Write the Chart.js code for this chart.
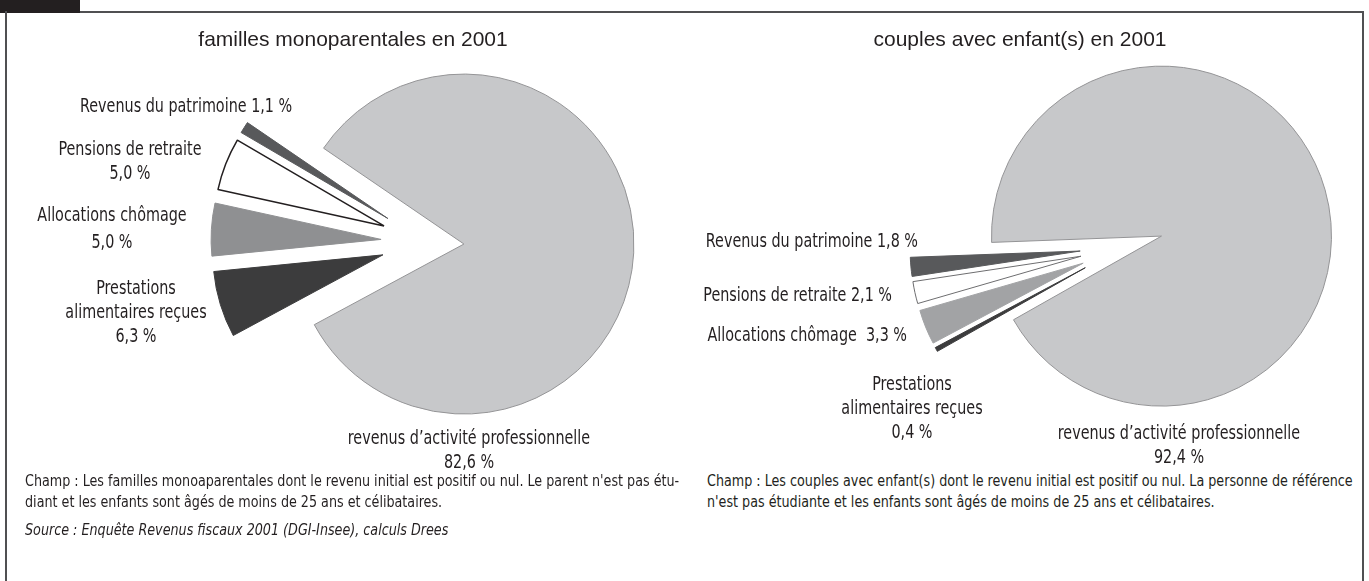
<!DOCTYPE html>
<html>
<head>
<meta charset="utf-8">
<script src="https://cdn.jsdelivr.net/npm/chart.js@4"></script>
<style>
html,body{margin:0;padding:0;background:#fff;}
#wrap{position:relative;width:1369px;height:581px;overflow:hidden;font-family:"DejaVu Sans Condensed","Liberation Sans Narrow",sans-serif;color:#231f20;}
.tab{position:absolute;left:0;top:0;width:80px;height:13px;background:#231f20;}
.fTop{position:absolute;left:80px;top:11px;width:1284px;height:2px;background:#505052;}
.fL{position:absolute;left:5px;top:11px;width:2px;height:580px;background:#505052;}
.fR{position:absolute;left:1362px;top:11px;width:2px;height:580px;background:#505052;}
canvas{position:absolute;}
.title{position:absolute;font-family:"Liberation Sans",Arial,sans-serif;font-size:21px;line-height:26px;white-space:nowrap;transform:translateX(-50%);}
.lbl{position:absolute;white-space:pre;font-size:19px;line-height:24px;transform-origin:0 0;transform:scaleX(0.84);}
.lbl.center{transform:scaleX(0.84) translateX(-50%);text-align:center;}
.lbl.right{transform:scaleX(0.84) translateX(-100%);text-align:right;}
.note{position:absolute;white-space:nowrap;font-size:16px;line-height:21px;transform-origin:0 0;transform:scaleX(0.885);}
.src{font-style:italic;}
</style>
</head>
<body>
<div id="wrap">
  <div class="tab"></div><div class="fTop"></div><div class="fL"></div><div class="fR"></div>
  <canvas id="pieMono" width="440" height="440" style="left:205px;top:22px;width:440px;height:440px"></canvas>
  <canvas id="pieCouples" width="440" height="440" style="left:903px;top:27px;width:440px;height:440px"></canvas>
</div>
<script>
// ---------- data ----------
const categories = ["revenus d’activité professionnelle", "Prestations alimentaires reçues", "Allocations chômage", "Pensions de retraite", "Revenus du patrimoine"];
const monoparentalValues = [82.6, 6.3, 5.0, 5.0, 1.1];
const couplesValues = [92.4, 0.4, 3.3, 2.1, 1.8];
const chartTitles = ["familles monoparentales en 2001", "couples avec enfant(s) en 2001"];
const champNotesMono = ["Champ : Les familles monoaparentales dont le revenu initial est positif ou nul. Le parent n'est pas étu-", "diant et les enfants sont âgés de moins de 25 ans et célibataires."];
const champNotesCouples = ["Champ : Les couples avec enfant(s) dont le revenu initial est positif ou nul. La personne de référence", "n'est pas étudiante et les enfants sont âgés de moins de 25 ans et célibataires."];
const sourceNote = "Source : Enquête Revenus fiscaux 2001 (DGI-Insee), calculs Drees";

// ---------- layout / style ----------
const monoStyle = {
  notchAngle: 183, radius: 170, mainShift: 39, sliceShift: 44,
  colors: ["#c7c8ca", "#3c3c3d", "#8f9092", "#ffffff", "#58595b"],
  borders: ["#949496", "#3c3c3d", "#8f9092", "#231f20", "#58595b"],
  borderWidths: [1, 1, 1, 1.5, 1]
};
const couplesStyle = {
  notchAngle: 164.2, radius: 170, mainShift: 40, sliceShift: 43,
  colors: ["#c7c8ca", "#3c3c3d", "#a2a3a5", "#ffffff", "#58595b"],
  borders: ["#949496", "#3c3c3d", "#a2a3a5", "#6d6d6f", "#58595b"],
  borderWidths: [1, 1, 1, 1, 1]
};
// label placement: x, baseline y, alignment, words per line of the name, value on same line
const monoLabelLayout = [
  {x: 469, y: 444, align: "center", breaks: [3], inline: false},
  {x: 136, y: 294, align: "center", breaks: [1, 2], inline: false},
  {x: 112, y: 221, align: "center", breaks: [2], inline: false, gap: 3},
  {x: 130, y: 155, align: "center", breaks: [3], inline: false},
  {x: 80, y: 112, align: "left", breaks: [3], inline: true}
];
const couplesLabelLayout = [
  {x: 1179, y: 439, align: "center", breaks: [3], inline: false},
  {x: 912, y: 390, align: "center", breaks: [1, 2], inline: false},
  {x: 907, y: 341, align: "right", breaks: [2], inline: true, sep: "  "},
  {x: 892, y: 301, align: "right", breaks: [3], inline: true},
  {x: 918, y: 247, align: "right", breaks: [3], inline: true}
];

const fmt = v => v.toFixed(1).replace(".", ",") + " %";
const wrap = document.getElementById("wrap");

function addDiv(cls, text, left, top) {
  const d = document.createElement("div");
  d.className = cls;
  d.textContent = text;
  d.style.left = left + "px";
  d.style.top = top + "px";
  wrap.appendChild(d);
  return d;
}

function addLabels(values, layout) {
  values.forEach((v, i) => {
    const L = layout[i];
    const words = categories[i].split(" ");
    const lines = [];
    let k = 0;
    L.breaks.forEach(n => { lines.push(words.slice(k, k + n).join(" ")); k += n; });
    if (L.inline) lines[lines.length - 1] += (L.sep || " ") + fmt(v);
    else lines.push(fmt(v));
    const d = addDiv("lbl " + L.align, lines.join("\n"), L.x, L.y - 18.6);
    if (L.gap) d.style.lineHeight = (24 + L.gap) + "px";
    if (L.gap) d.style.top = (L.y - 18.6 - L.gap / 2) + "px";
  });
}

// explode slices: translate each arc (geometry computed by Chart.js) along its bisector
const explodePlugin = {
  id: "explode",
  beforeDatasetDraw(chart, args, opts) {
    const ctx = chart.ctx;
    const shifts = opts.shifts || [];
    args.meta.data.forEach((arc, i) => {
      const mid = (arc.startAngle + arc.endAngle) / 2;
      const d = shifts[i] || 0;
      ctx.save();
      ctx.translate(Math.cos(mid) * d, Math.sin(mid) * d);
      arc.draw(ctx, chart.chartArea);
      ctx.restore();
    });
    return false;
  }
};

function makePie(id, values, style) {
  const total = values.reduce((a, b) => a + b, 0);
  const smallShare = (total - values[0]) / total;
  return new Chart(document.getElementById(id), {
    type: "pie",
    plugins: [explodePlugin],
    data: {
      labels: categories,
      datasets: [{
        data: values,
        backgroundColor: style.colors,
        borderColor: style.borders,
        borderWidth: style.borderWidths,
        offset: 0,
        hoverOffset: 0
      }]
    },
    options: {
      responsive: false,
      animation: false,
      events: [],
      radius: style.radius,
      rotation: 90 + style.notchAngle + smallShare * 180,
      layout: {padding: 0},
      plugins: {
        legend: {display: false}, title: {display: false}, tooltip: {enabled: false},
        explode: {shifts: values.map((v, i) => i === 0 ? style.mainShift : style.sliceShift)}
      }
    }
  });
}

makePie("pieMono", monoparentalValues, monoStyle);
makePie("pieCouples", couplesValues, couplesStyle);
addLabels(monoparentalValues, monoLabelLayout);
addLabels(couplesValues, couplesLabelLayout);

addDiv("title", chartTitles[0], 353, 26);
addDiv("title", chartTitles[1], 1020, 26);
addDiv("note", champNotesMono[0], 25, 470);
addDiv("note", champNotesMono[1], 25, 491);
addDiv("note src", sourceNote, 25, 519);
addDiv("note", champNotesCouples[0], 707, 470);
addDiv("note", champNotesCouples[1], 707, 491);
</script>
</body>
</html>
